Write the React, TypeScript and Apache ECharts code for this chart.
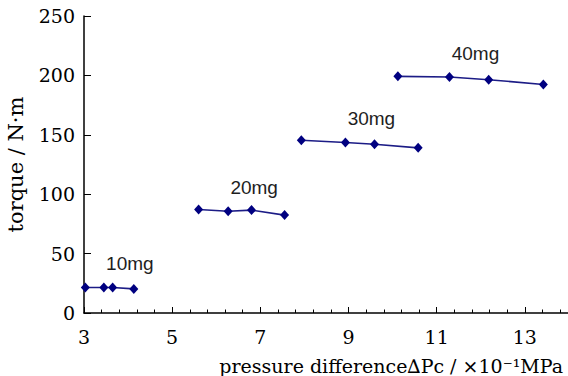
import React, { useEffect, useRef } from "react";
import * as echarts from "echarts";

// pressure difference (×10^-1 MPa) and torque (N·m) readings per dosage
const groupNames = ["10mg", "20mg", "30mg", "40mg"];
const x10 = [3.03, 3.45, 3.65, 4.13];
const y10 = [21.5, 21.5, 21.5, 20.3];
const x20 = [5.6, 6.27, 6.8, 7.55];
const y20 = [87.1, 85.7, 86.6, 82.4];
const x30 = [7.93, 8.93, 9.59, 10.58];
const y30 = [145.4, 143.5, 142.1, 139.0];
const x40 = [10.12, 11.29, 12.18, 13.42];
const y40 = [199.2, 198.6, 196.4, 192.4];
const xGroups = [x10, x20, x30, x40];
const yGroups = [y10, y20, y30, y40];

const xStart = 3; // first x tick label
const xTickStep = 2;
const xTickLabels = ["3", "5", "7", "9", "11", "13"];
const yTicks = [0, 50, 100, 150, 200, 250];

const xName = "pressure difference\u2206Pc / \u00d710\u207b\u00b9MPa";
const yName = "torque / N\u00b7m";

export default function App() {
  const ref = useRef<HTMLDivElement>(null);
  useEffect(() => {
    document.body.style.margin = "0";
    if (!ref.current) return;
    const chart = echarts.init(ref.current, undefined, { renderer: "svg" });
    const serif = "DejaVu Serif";
    const series: any[] = xGroups.map((xs, gi) => ({
      type: "line",
      name: groupNames[gi],
      data: xs.map((x, i) => {
        const item: any = { value: [x - xStart, yGroups[gi][i]] };
        if (i === 1) {
          item.label = {
            show: true,
            formatter: groupNames[gi],
            position: "inside",
            offset: [26, -24],
            color: "#1e1e1e",
            fontFamily: "Liberation Sans",
            fontSize: 19,
          };
        }
        return item;
      }),
      symbol: "diamond",
      symbolSize: [9, 10],
      itemStyle: { color: "#000080" },
      lineStyle: { color: "#1c1c86", width: 1.6 },
      label: { show: false },
      clip: false,
    }));
    chart.setOption({
      animation: false,
      backgroundColor: "#ffffff",
      grid: {
        left: 84,
        width: 529,
        top: 16,
        height: 297,
        containLabel: false,
        outerBoundsMode: "none",
      },
      xAxis: {
        type: "value",
        min: 0,
        max: 12,
        interval: xTickStep,
        axisLine: { show: true, lineStyle: { color: "#000", width: 1.5 } },
        axisTick: { show: true, inside: true, length: 6, lineStyle: { color: "#000" } },
        minorTick: { show: true, splitNumber: 5, length: 3.5, lineStyle: { color: "#000" } },
        splitLine: { show: false },
        minorSplitLine: { show: false },
        axisLabel: {
          margin: 14,
          color: "#000",
          fontFamily: serif,
          fontSize: 19,
          formatter: (v: number) => {
            const idx = Math.round(v / xTickStep);
            return xTickLabels[idx] ?? "";
          },
        },
      },
      yAxis: {
        type: "value",
        min: yTicks[0],
        max: yTicks[yTicks.length - 1],
        interval: yTicks[1] - yTicks[0],
        name: yName,
        nameLocation: "middle",
        nameGap: 58,
        nameRotate: 90,
        nameTextStyle: { color: "#000", fontFamily: serif, fontSize: 21 },
        axisLine: { show: true, lineStyle: { color: "#000", width: 1.5 } },
        axisTick: { show: true, inside: true, length: 7, lineStyle: { color: "#000" } },
        splitLine: { show: false },
        axisLabel: {
          margin: 9,
          color: "#000",
          fontFamily: serif,
          fontSize: 19,
        },
      },
      graphic: [
        {
          type: "text",
          right: 5,
          top: 356,
          style: {
            text: xName,
            fill: "#000",
            font: `19px "${serif}"`,
          },
        },
      ],
      series,
    });
    return () => chart.dispose();
  }, []);
  return <div ref={ref} style={{ width: 568, height: 376 }} />;
}
